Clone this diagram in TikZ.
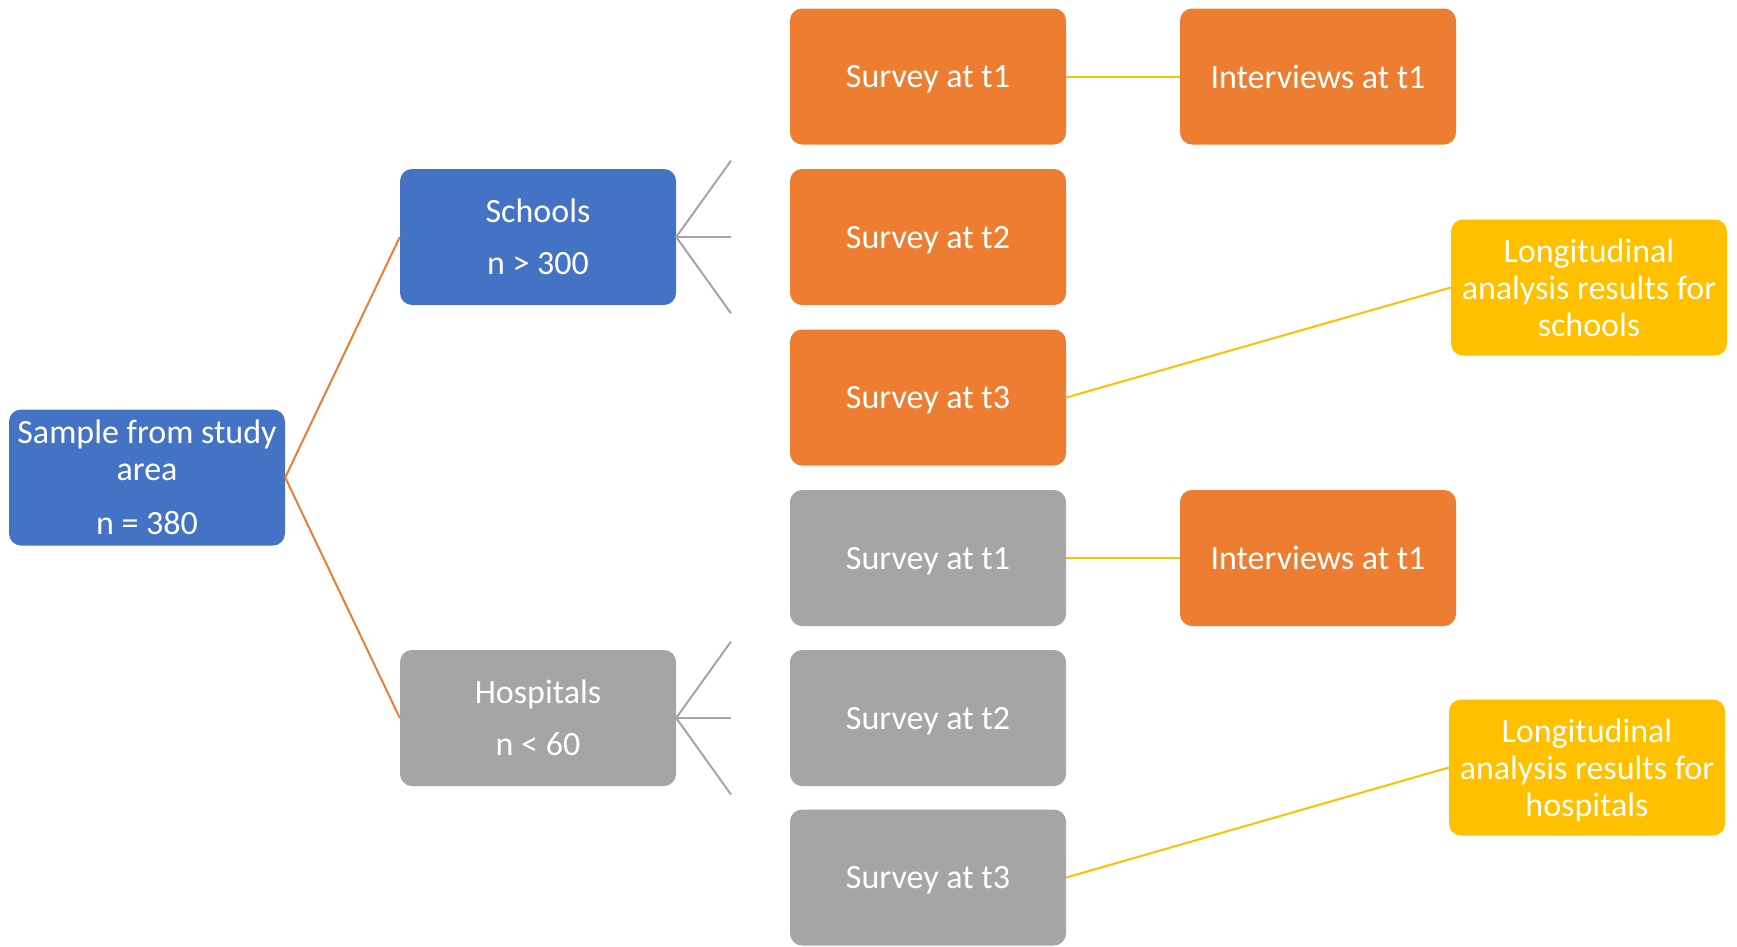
\documentclass[tikz,border=0pt]{standalone}
\usepackage{fontspec}
\setmainfont{Carlito}
\definecolor{cblue}{HTML}{4472C4}
\definecolor{corange}{HTML}{ED7D31}
\definecolor{cgray}{HTML}{A5A5A5}
\definecolor{cyellow}{HTML}{FFC000}
\begin{document}
\begin{tikzpicture}[x=1pt,y=-1pt,
  box/.style={rounded corners=12pt, minimum width=276pt, minimum height=136pt, inner sep=0pt,
    text=white, align=center, text depth=0pt, font=\fontsize{34}{37}\selectfont},
  bluebox/.style={box, fill=cblue},
  orangebox/.style={box, fill=corange},
  graybox/.style={box, fill=cgray},
  yellowbox/.style={box, fill=cyellow},
  oline/.style={draw=corange, line width=2pt},
  gline/.style={draw=cgray, line width=2pt},
  yline/.style={draw=cyellow, line width=2pt}]
\useasboundingbox (0,0) rectangle (1737,946);

\node[bluebox] (sample) at (147,477.5) {Sample from study\\area\\[17pt]n = 380};
\node[bluebox] (schools) at (538,237) {Schools\\[15pt]n > 300};
\node[graybox] (hospitals) at (538,718) {Hospitals\\[15pt]n < 60};

\node[orangebox] (s1) at (928,76.5) {Survey at t1};
\node[orangebox] (s2) at (928,237) {Survey at t2};
\node[orangebox] (s3) at (928,397.5) {Survey at t3};
\node[graybox] (h1) at (928,558) {Survey at t1};
\node[graybox] (h2) at (928,718) {Survey at t2};
\node[graybox] (h3) at (928,877.5) {Survey at t3};

\node[orangebox] (i1) at (1318,76.5) {Interviews at t1};
\node[orangebox] (i2) at (1318,558) {Interviews at t1};

\node[yellowbox] (ls) at (1589,287.5) {Longitudinal\\analysis results for\\schools};
\node[yellowbox] (lh) at (1587,767.5) {Longitudinal\\analysis results for\\hospitals};

\coordinate (sa) at (731,160.7);
\coordinate (sb) at (731,237);
\coordinate (sc) at (731,313.3);
\coordinate (ha) at (731,641.5);
\coordinate (hb) at (731,718);
\coordinate (hc) at (731,794.5);

\draw[oline] (sample.east) -- (schools.west);
\draw[oline] (sample.east) -- (hospitals.west);

\draw[gline] (sa) -- (schools.east) -- (sc);
\draw[gline] (schools.east) -- (sb);
\draw[gline] (ha) -- (hospitals.east) -- (hc);
\draw[gline] (hospitals.east) -- (hb);

\draw[yline] (s1.east) -- (i1.west);
\draw[yline] (s3.east) -- (ls.west);
\draw[yline] (h1.east) -- (i2.west);
\draw[yline] (h3.east) -- (lh.west);
\end{tikzpicture}
\end{document}
